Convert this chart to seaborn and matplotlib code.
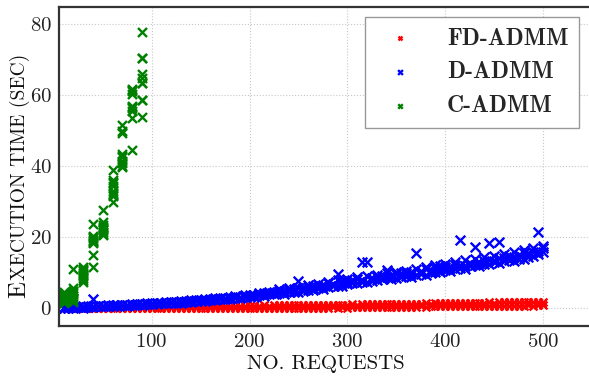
import matplotlib
matplotlib.use("Agg")
import matplotlib.pyplot as plt
import pandas as pd
import seaborn as sns
from matplotlib.font_manager import FontProperties

# requests grid shared by the FD-ADMM and D-ADMM runs
REQUESTS = list(range(10, 501, 5))

FD_ADMM_RUN1 = [
    0.1, 0.1, 0.1, 0.2, 0.1, 0.2, 0.2, 0.2, 0.3, 0.2,
    0.3, 0.3, 0.3, 0.3, 0.4, 0.3, 0.4, 0.4, 0.4, 0.4,
    0.4, 0.5, 0.4, 0.5, 0.5, 0.5, 0.5, 0.6, 0.5, 0.6,
    0.6, 0.6, 0.6, 0.6, 0.7, 0.6, 0.7, 0.7, 0.7, 0.7,
    0.7, 0.8, 0.7, 0.8, 0.8, 0.8, 0.8, 0.9, 0.8, 0.9,
    0.9, 0.9, 0.9, 1.0, 0.9, 1.0, 1.0, 1.0, 1.0, 1.1,
    1.0, 1.1, 1.1, 1.1, 1.2, 1.1, 1.2, 1.2, 1.2, 1.3,
    1.2, 1.3, 1.3, 1.3, 1.4, 1.3, 1.4, 1.4, 1.5, 1.4,
    1.5, 1.5, 1.5, 1.6, 1.5, 1.6, 1.6, 1.7, 1.6, 1.7,
    1.7, 1.7, 1.8, 1.7, 1.8, 1.8, 1.9, 1.8, 1.9,
]
FD_ADMM_RUN2 = [
    0.0, 0.0, 0.0, 0.0, 0.0, 0.0, 0.0, 0.0, 0.0, 0.0,
    0.0, 0.0, 0.0, 0.0, 0.0, 0.0, 0.0, 0.0, 0.1, 0.0,
    0.0, 0.1, 0.0, 0.1, 0.0, 0.1, 0.1, 0.0, 0.1, 0.1,
    0.1, 0.1, 0.1, 0.0, 0.1, 0.1, 0.1, 0.1, 0.1, 0.1,
    0.1, 0.1, 0.1, 0.2, 0.1, 0.2, 0.1, 0.2, 0.2, 0.2,
    0.2, 0.2, 0.2, 0.2, 0.2, 0.3, 0.2, 0.3, 0.2, 0.3,
    0.3, 0.3, 0.3, 0.3, 0.3, 0.4, 0.3, 0.4, 0.4, 0.4,
    0.4, 0.4, 0.4, 0.5, 0.4, 0.5, 0.5, 0.5, 0.5, 0.5,
    0.5, 0.6, 0.5, 0.6, 0.6, 0.6, 0.6, 0.6, 0.7, 0.6,
    0.7, 0.7, 0.7, 0.7, 0.7, 0.8, 0.7, 0.8, 0.8,
]

D_ADMM_RUN1 = [
    0.2, 0.3, 0.3, 0.4, 0.4, 0.5, 2.7, 0.6, 0.7, 0.8,
    0.8, 0.9, 1.0, 1.0, 1.1, 1.2, 1.3, 1.4, 1.5, 1.5,
    1.6, 1.7, 1.9, 1.8, 2.0, 2.1, 2.2, 2.4, 2.3, 2.5,
    2.6, 2.8, 3.0, 2.9, 3.2, 3.5, 3.3, 3.6, 3.8, 3.7,
    4.0, 4.3, 4.2, 4.6, 4.9, 4.8, 5.2, 5.5, 7.6, 5.8,
    6.0, 6.3, 6.1, 6.6, 7.0, 6.8, 9.7, 7.6, 7.4, 8.0,
    8.2, 13.0, 13.0, 8.5, 8.8, 9.0, 8.7, 9.3, 9.6, 9.2,
    9.8, 10.2, 15.5, 10.5, 11.0, 10.6, 11.3, 11.8, 11.5, 12.0,
    12.3, 19.2, 12.0, 12.6, 17.2, 12.8, 13.3, 18.3, 13.4, 18.6,
    14.3, 14.6, 14.4, 15.0, 15.5, 15.2, 15.9, 21.4, 17.0,
]
D_ADMM_RUN2 = [
    0.1, 0.2, 0.1, 0.3, 0.2, 0.4, 0.3, 0.5, 0.5, 0.6,
    0.6, 0.7, 0.8, 0.7, 0.9, 1.0, 1.0, 1.1, 1.3, 1.2,
    1.4, 1.5, 1.4, 1.7, 1.6, 1.9, 1.8, 2.0, 2.1, 2.0,
    2.3, 2.2, 2.5, 2.7, 2.6, 3.0, 2.8, 3.1, 3.3, 3.2,
    3.6, 3.4, 3.9, 4.0, 4.2, 4.1, 4.5, 4.7, 4.6, 5.0,
    5.2, 5.1, 5.6, 5.5, 6.0, 6.2, 6.4, 6.3, 6.9, 7.0,
    7.2, 7.5, 7.4, 7.8, 8.0, 8.3, 10.9, 8.2, 8.6, 8.8,
    9.0, 8.8, 9.4, 9.6, 9.3, 10.0, 10.2, 10.1, 10.8, 10.6,
    11.0, 11.3, 11.1, 11.8, 12.1, 11.9, 12.5, 12.4, 13.0, 12.8,
    13.2, 13.6, 13.3, 14.0, 13.8, 14.5, 14.7, 15.3, 15.8,
]
D_ADMM_RUN3 = [
    0.3, 0.2, 0.4, 0.3, 0.5, 0.4, 0.6, 0.5, 0.6, 0.7,
    0.7, 0.8, 0.9, 0.9, 1.0, 1.1, 1.1, 1.3, 1.2, 1.4,
    1.5, 1.6, 1.7, 1.6, 1.8, 1.8, 2.0, 2.1, 2.2, 2.3,
    2.4, 2.5, 2.7, 2.6, 2.9, 3.1, 3.0, 3.4, 3.5, 3.4,
    4.4, 3.9, 4.6, 4.3, 5.3, 4.5, 5.6, 5.0, 5.8, 5.4,
    6.5, 5.8, 6.8, 6.2, 7.5, 6.5, 7.9, 7.0, 8.3, 7.4,
    8.7, 8.0, 9.1, 8.4, 9.5, 8.6, 9.9, 8.9, 10.2, 9.8,
    10.5, 9.6, 11.0, 10.1, 11.6, 10.9, 12.2, 11.0, 12.6, 11.4,
    13.0, 12.1, 13.5, 12.7, 14.0, 13.1, 14.5, 13.6, 14.8, 14.2,
    15.2, 14.4, 15.8, 15.0, 16.4, 15.6, 16.9, 16.2, 17.6,
]

# C-ADMM was only run up to 90 requests, ten runs each
C_ADMM_REQUESTS = [10, 20, 30, 40, 50, 60, 70, 80, 90]
C_ADMM_RUNS = [
    [4.5, 4.0, 3.5, 3.0, 2.5, 2.0, 1.5, 2.2, 3.8, 1.8],
    [11.0, 5.8, 4.8, 4.2, 3.5, 2.8, 2.2, 1.8, 3.0, 5.0],
    [11.5, 11.0, 10.5, 10.0, 9.5, 9.0, 8.5, 8.0, 7.4, 10.8],
    [23.7, 20.5, 19.8, 19.3, 18.8, 18.5, 15.1, 11.6, 20.0, 19.0],
    [27.6, 24.2, 23.0, 22.5, 22.0, 21.5, 21.0, 20.7, 23.5, 22.2],
    [38.9, 36.0, 35.2, 34.5, 32.6, 32.0, 31.5, 30.0, 33.0, 35.5],
    [51.5, 50.0, 49.4, 43.4, 42.5, 41.5, 40.8, 40.2, 39.8, 43.0],
    [61.8, 61.2, 60.5, 57.0, 56.3, 55.6, 53.7, 44.6, 61.5, 56.8],
    [77.8, 70.6, 65.9, 65.0, 63.4, 58.6, 53.9, 70.6, 63.4, 58.6],
]

METHODS = ["FD-ADMM", "D-ADMM", "C-ADMM"]
COLORS = {"FD-ADMM": "#ff0000", "D-ADMM": "#0000ff", "C-ADMM": "#008000"}
MARKER_SIZE = {"FD-ADMM": 32, "D-ADMM": 48, "C-ADMM": 42}

rows = []
for run in (FD_ADMM_RUN1, FD_ADMM_RUN2):
    rows += [("FD-ADMM", r, t) for r, t in zip(REQUESTS, run)]
for run in (D_ADMM_RUN1, D_ADMM_RUN2, D_ADMM_RUN3):
    rows += [("D-ADMM", r, t) for r, t in zip(REQUESTS, run)]
for r, runs in zip(C_ADMM_REQUESTS, C_ADMM_RUNS):
    rows += [("C-ADMM", r, t) for t in runs]
df = pd.DataFrame(rows, columns=["method", "requests", "time"])

sns.set_theme(style="whitegrid", rc={
    "grid.linestyle": ":",
    "grid.color": "#c8c8c8",
    "grid.linewidth": 0.8,
    "axes.edgecolor": "#333333",
    "axes.linewidth": 1.6,
})
plt.rcParams["font.family"] = ["cmr10", "DejaVu Serif"]
plt.rcParams["axes.formatter.use_mathtext"] = True
plt.rcParams["axes.unicode_minus"] = False

fig = plt.figure(figsize=(5.89, 3.77), dpi=100)
ax = fig.add_axes([58.7 / 589, 1 - 326 / 377, (592 - 58.7) / 589, (326 - 6.6) / 377])

for m in METHODS:
    sns.scatterplot(
        data=df[df["method"] == m],
        x="requests",
        y="time",
        color=COLORS[m],
        marker="x",
        s=MARKER_SIZE[m],
        linewidth=1.7,
        label=m,
        ax=ax,
    )

ax.set_xlim(5, 550)
ax.set_ylim(-5, 85)
ax.set_xticks([100, 200, 300, 400, 500])
ax.set_yticks([0, 20, 40, 60, 80])
ax.tick_params(length=0, labelsize=15, pad=5, colors="#222222")
ax.spines["right"].set_visible(False)
ax.set_xlabel("NO. REQUESTS", fontsize=15, color="#111111", labelpad=3)
ax.set_ylabel("")

handles, labels = ax.get_legend_handles_labels()
leg = ax.legend(
    handles, labels,
    loc="upper right",
    bbox_to_anchor=(579 / 589, 1 - 17 / 377),
    bbox_transform=fig.transFigure,
    borderaxespad=0,
    prop=FontProperties(family="cmb10", size=17),
    markerscale=0.5,
    handletextpad=1.0,
    labelspacing=0.5,
    borderpad=0.45,
    fancybox=False,
    framealpha=1,
    edgecolor="#999999",
)
leg.get_frame().set_linewidth(1.0)

# small-caps style y label: big E, then the rest a bit smaller
fig.canvas.draw()
e_txt = fig.text(25 / 589, 1 - 298 / 377, "E", rotation=90, rotation_mode="anchor",
                 ha="left", va="baseline", fontsize=18, color="#111111")
bb = e_txt.get_window_extent(fig.canvas.get_renderer())
fig.text(25 / 589, bb.y1 / fig.bbox.height + 0.003, "XECUTION TIME (SEC)", rotation=90,
         rotation_mode="anchor", ha="left", va="baseline", fontsize=14, color="#111111")

fig.savefig("out.png", dpi=100)
